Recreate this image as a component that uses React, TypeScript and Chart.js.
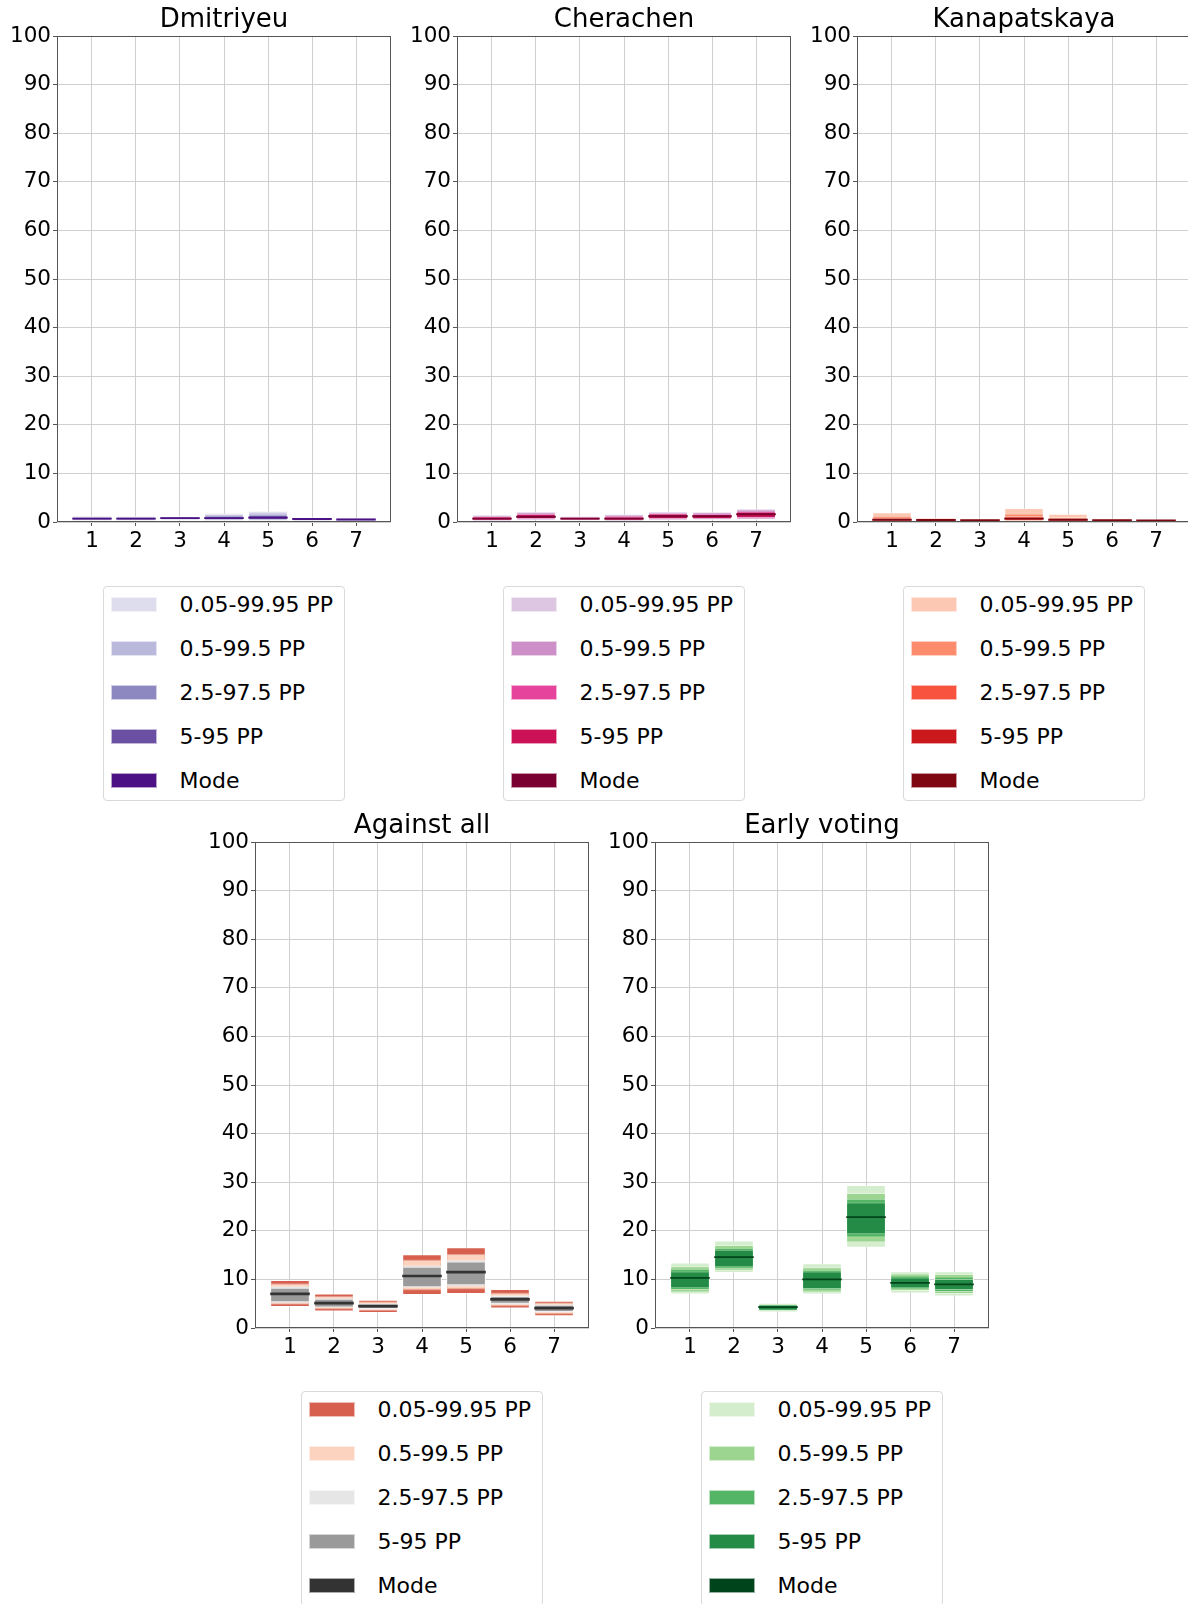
import React, { useEffect, useRef } from "react";
import { Chart, registerables } from "chart.js";

Chart.register(...registerables);

// ---------- data ----------
const CATEGORIES = [1, 2, 3, 4, 5, 6, 7];
const BAND_LABELS = ["0.05-99.95 PP", "0.5-99.5 PP", "2.5-97.5 PP", "5-95 PP", "Mode"];

// Dmitriyeu
const D_MODE = [0.7, 0.7, 0.8, 0.8, 0.9, 0.6, 0.5];
const D_LO_005 = [0.1, 0.1, 0.2, 0.1, 0.1, 0.1, 0.05];
const D_HI_005 = [1.4, 1.3, 1.25, 1.9, 2.3, 1.05, 0.95];
const D_LO_05 = [0.2, 0.2, 0.3, 0.2, 0.2, 0.15, 0.12];
const D_HI_05 = [1.25, 1.2, 1.2, 1.65, 1.95, 1.0, 0.9];
const D_LO_25 = [0.3, 0.3, 0.4, 0.3, 0.3, 0.25, 0.2];
const D_HI_25 = [1.1, 1.1, 1.15, 1.4, 1.6, 0.95, 0.85];
const D_LO_5 = [0.35, 0.35, 0.45, 0.4, 0.4, 0.3, 0.25];
const D_HI_5 = [1.0, 1.0, 1.1, 1.2, 1.4, 0.9, 0.8];

// Cherachen
const C_MODE = [0.7, 1.1, 0.7, 0.7, 1.2, 1.2, 1.6];
const C_LO_005 = [0.1, 0.25, 0.15, 0.05, 0.25, 0.3, 0.4];
const C_HI_005 = [1.6, 2.2, 1.3, 1.7, 2.25, 2.15, 2.8];
const C_LO_05 = [0.15, 0.35, 0.2, 0.15, 0.35, 0.4, 0.5];
const C_HI_05 = [1.45, 2.0, 1.2, 1.5, 2.05, 2.0, 2.55];
const C_LO_25 = [0.25, 0.5, 0.3, 0.25, 0.5, 0.5, 0.7];
const C_HI_25 = [1.25, 1.75, 1.1, 1.3, 1.85, 1.75, 2.3];
const C_LO_5 = [0.3, 0.6, 0.35, 0.3, 0.6, 0.6, 0.8];
const C_HI_5 = [1.1, 1.6, 1.0, 1.1, 1.7, 1.6, 2.1];

// Kanapatskaya
const K_MODE = [0.45, 0.4, 0.35, 0.7, 0.45, 0.35, 0.3];
const K_LO_005 = [0.02, 0.02, 0.02, 0.05, 0.02, 0.02, 0.02];
const K_HI_005 = [2.0, 0.95, 0.7, 2.9, 1.7, 0.7, 0.55];
const K_LO_05 = [0.05, 0.05, 0.05, 0.1, 0.05, 0.05, 0.04];
const K_HI_05 = [1.3, 0.85, 0.65, 1.75, 1.05, 0.65, 0.52];
const K_LO_25 = [0.1, 0.08, 0.08, 0.2, 0.1, 0.08, 0.06];
const K_HI_25 = [0.95, 0.8, 0.6, 1.25, 0.9, 0.6, 0.5];
const K_LO_5 = [0.15, 0.1, 0.1, 0.3, 0.15, 0.1, 0.08];
const K_HI_5 = [0.8, 0.7, 0.55, 1.0, 0.75, 0.55, 0.45];

// Against all
const A_MODE = [7.0, 5.1, 4.5, 10.7, 11.5, 5.9, 4.1];
const A_LO_005 = [4.3, 3.4, 3.1, 6.8, 7.0, 4.0, 2.4];
const A_HI_005 = [9.9, 7.1, 5.8, 15.2, 16.6, 8.0, 5.6];
const A_LO_05 = [4.8, 3.8, 3.5, 7.7, 7.9, 4.4, 2.8];
const A_HI_05 = [9.2, 6.6, 5.5, 14.1, 15.3, 7.3, 5.3];
const A_LO_25 = [5.0, 4.0, 3.7, 8.2, 8.5, 4.7, 3.1];
const A_HI_25 = [8.7, 6.3, 5.2, 12.9, 14.1, 6.8, 5.0];
const A_LO_5 = [5.3, 4.2, 3.9, 8.4, 8.8, 5.0, 3.3];
const A_HI_5 = [8.3, 6.0, 5.0, 12.6, 13.7, 6.6, 4.8];

// Early voting
const E_MODE = [10.3, 14.6, 4.3, 10.0, 22.8, 9.3, 9.0];
const E_LO_005 = [6.9, 11.3, 3.2, 6.9, 16.5, 7.1, 6.5];
const E_HI_005 = [13.5, 18.0, 5.2, 13.3, 29.4, 11.7, 11.7];
const E_LO_05 = [7.3, 11.8, 3.4, 7.3, 17.6, 7.6, 7.0];
const E_HI_05 = [12.7, 17.1, 5.0, 12.5, 27.8, 11.2, 11.1];
const E_LO_25 = [7.8, 12.2, 3.5, 7.7, 18.6, 7.9, 7.4];
const E_HI_25 = [12.2, 16.5, 4.9, 12.0, 26.6, 10.8, 10.6];
const E_LO_5 = [8.2, 12.5, 3.6, 8.0, 19.3, 8.2, 7.8];
const E_HI_5 = [11.6, 16.1, 4.8, 11.6, 25.8, 10.4, 10.1];

// ---------- styling / layout ----------
const FONT = "'DejaVu Sans', 'Liberation Sans', sans-serif";
const PLOT_W = 334;
const Y_AXIS_W = 57;
const RIGHT_PAD = 9;
const CANVAS_W = Y_AXIS_W + PLOT_W + RIGHT_PAD;
const TITLE_BLOCK = 36;
const TITLE_SIZE = 26;
const TITLE_LH = 1.1;
const TITLE_PAD_TOP = 5.5;
const PLOT_H = 486;
const X_AXIS_H = 48;
const CANVAS_H = TITLE_BLOCK + PLOT_H + X_AXIS_H;

type Panel = {
  title: string;
  plotLeft: number;
  plotTop: number;
  legendTop: number;
  colors: string[];
  mode: number[];
  modeHalf: number;
  bands: [number[], number[]][];
};

const PANELS: Panel[] = [
  {
    title: "Dmitriyeu",
    plotLeft: 57,
    plotTop: 36,
    legendTop: 586,
    colors: ["#dedded", "#bab9db", "#8e88c0", "#6a4fa2", "#4b1185"],
    mode: D_MODE,
    modeHalf: 0.2,
    bands: [
      [D_LO_005, D_HI_005],
      [D_LO_05, D_HI_05],
      [D_LO_25, D_HI_25],
      [D_LO_5, D_HI_5],
    ],
  },
  {
    title: "Cherachen",
    plotLeft: 457,
    plotTop: 36,
    legendTop: 586,
    colors: ["#dcc6e1", "#cd8fc7", "#e6449c", "#cb1256", "#7a0031"],
    mode: C_MODE,
    modeHalf: 0.2,
    bands: [
      [C_LO_005, C_HI_005],
      [C_LO_05, C_HI_05],
      [C_LO_25, C_HI_25],
      [C_LO_5, C_HI_5],
    ],
  },
  {
    title: "Kanapatskaya",
    plotLeft: 857,
    plotTop: 36,
    legendTop: 586,
    colors: ["#fdc8b3", "#fc8c6c", "#f7533e", "#cb181d", "#7f0711"],
    mode: K_MODE,
    modeHalf: 0.2,
    bands: [
      [K_LO_005, K_HI_005],
      [K_LO_05, K_HI_05],
      [K_LO_25, K_HI_25],
      [K_LO_5, K_HI_5],
    ],
  },
  {
    title: "Against all",
    plotLeft: 255,
    plotTop: 842,
    legendTop: 1391,
    colors: ["#d6604d", "#fbd3bf", "#e6e6e6", "#9a9a9a", "#333333"],
    mode: A_MODE,
    modeHalf: 0.28,
    bands: [
      [A_LO_005, A_HI_005],
      [A_LO_05, A_HI_05],
      [A_LO_25, A_HI_25],
      [A_LO_5, A_HI_5],
    ],
  },
  {
    title: "Early voting",
    plotLeft: 655,
    plotTop: 842,
    legendTop: 1391,
    colors: ["#d3edcd", "#9bd590", "#55b566", "#238b45", "#00441b"],
    mode: E_MODE,
    modeHalf: 0.18,
    bands: [
      [E_LO_005, E_HI_005],
      [E_LO_05, E_HI_05],
      [E_LO_25, E_HI_25],
      [E_LO_5, E_HI_5],
    ],
  },
];

const framePlugin = {
  id: "frame",
  afterDraw(chart: any) {
    const { ctx, chartArea } = chart;
    const { left, top, right, bottom } = chartArea;
    ctx.save();
    ctx.strokeStyle = "#555555";
    ctx.lineWidth = 1;
    ctx.strokeRect(Math.round(left) + 0.5, Math.round(top) + 0.5, Math.round(right - left) - 1, Math.round(bottom - top) - 1);
    ctx.restore();
  },
};

function PanelChart({ panel }: { panel: Panel }) {
  const ref = useRef<HTMLCanvasElement | null>(null);

  useEffect(() => {
    if (!ref.current) return;
    const bandSets = panel.bands.map(([lo, hi], b) => ({
      label: BAND_LABELS[b],
      data: CATEGORIES.map((c, i) => ({ x: c, y: [lo[i], hi[i]] })),
      backgroundColor: panel.colors[b],
      borderColor: "rgba(255,255,255,0.35)",
      borderWidth: 1,
      borderSkipped: false,
      order: 4 - b,
    }));
    const modeSet = {
      label: BAND_LABELS[4],
      data: CATEGORIES.map((c, i) => ({ x: c, y: [panel.mode[i] - panel.modeHalf, panel.mode[i] + panel.modeHalf] })),
      backgroundColor: panel.colors[4],
      borderWidth: 0,
      borderSkipped: false,
      order: 0,
    };
    const tickFont = { family: FONT, size: 21.5 };
    const chart = new Chart(ref.current, {
      type: "bar",
      data: { datasets: [modeSet, ...bandSets] as any },
      options: {
        responsive: false,
        animation: false,
        devicePixelRatio: 1,
        layout: { padding: { left: 0, right: RIGHT_PAD, top: 0, bottom: 0 } },
        datasets: { bar: { grouped: false, categoryPercentage: 1, barPercentage: 0.9 } as any },
        plugins: {
          legend: { display: false },
          tooltip: { enabled: false },
          title: {
            display: true,
            fullSize: false,
            text: panel.title,
            color: "#000000",
            font: { family: FONT, size: TITLE_SIZE, weight: "normal" as any, lineHeight: TITLE_LH },
            padding: { top: TITLE_PAD_TOP, bottom: TITLE_BLOCK - TITLE_PAD_TOP - TITLE_SIZE * TITLE_LH },
          },
        },
        scales: {
          x: {
            type: "linear",
            min: 0.205,
            max: 7.795,
            offset: false,
            afterBuildTicks: (axis: any) => {
              axis.ticks = CATEGORIES.map((v) => ({ value: v }));
            },
            afterFit: (axis: any) => {
              axis.height = X_AXIS_H;
            },
            grid: { color: "#cfcfcf", lineWidth: 1, offset: false, tickLength: 4, tickColor: "#555555" },
            border: { display: false },
            ticks: { font: tickFont, color: "#000000", padding: 3, maxRotation: 0, autoSkip: false },
          },
          y: {
            min: 0,
            max: 100,
            afterFit: (axis: any) => {
              axis.width = Y_AXIS_W;
            },
            grid: { color: "#cfcfcf", lineWidth: 1, tickLength: 4, tickColor: "#555555" },
            border: { display: false },
            ticks: { stepSize: 10, font: tickFont, color: "#000000", padding: 2 },
          },
        },
      } as any,
      plugins: [framePlugin],
    });
    return () => chart.destroy();
  }, [panel]);

  return (
    <canvas
      ref={ref}
      width={CANVAS_W}
      height={CANVAS_H}
      style={{
        position: "absolute",
        left: panel.plotLeft - Y_AXIS_W,
        top: panel.plotTop - TITLE_BLOCK,
        width: CANVAS_W,
        height: CANVAS_H,
      }}
    />
  );
}

function PanelLegend({ panel }: { panel: Panel }) {
  return (
    <div
      style={{
        position: "absolute",
        left: panel.plotLeft + 45.5,
        top: panel.legendTop,
        width: 242,
        height: 215,
        boxSizing: "border-box",
        border: "1px solid #d9d9d9",
        borderRadius: 4,
        background: "#ffffff",
        fontFamily: FONT,
        fontSize: 22,
        color: "#000000",
      }}
    >
      {BAND_LABELS.map((lab, k) => (
        <div
          key={lab}
          style={{
            position: "absolute",
            left: 0,
            top: 17.6 + 44 * k - 14,
            height: 28,
            width: 240,
          }}
        >
          <div
            style={{
              position: "absolute",
              left: 7,
              top: 6,
              width: 46,
              height: 15,
              background: panel.colors[k],
              border: "1px solid rgba(255,255,255,0.6)",
              boxSizing: "border-box",
            }}
          />
          <span style={{ position: "absolute", left: 76, top: 0, lineHeight: "28px", whiteSpace: "nowrap" }}>{lab}</span>
        </div>
      ))}
    </div>
  );
}

export default function App() {
  return (
    <div
      style={{
        position: "absolute",
        left: 0,
        top: 0,
        width: 1188,
        height: 1604,
        overflow: "hidden",
        background: "#ffffff",
      }}
    >
      {PANELS.map((p) => (
        <React.Fragment key={p.title}>
          <PanelChart panel={p} />
          <PanelLegend panel={p} />
        </React.Fragment>
      ))}
    </div>
  );
}
